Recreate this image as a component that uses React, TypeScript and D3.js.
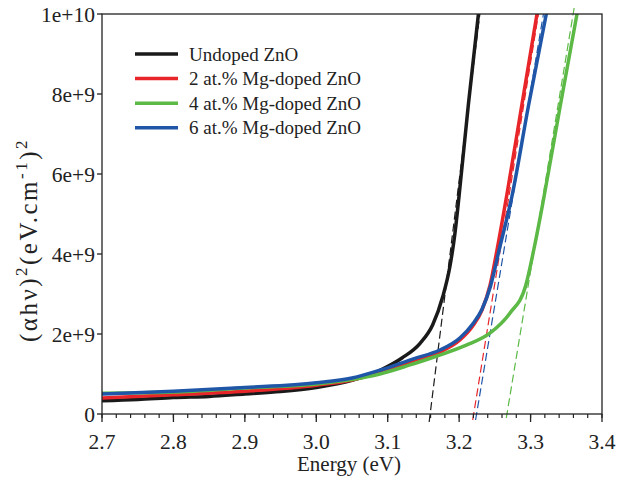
import React from "react";
import * as d3 from "d3";

// ---------- data (values in units of 1e9) ----------
const undopedE = [2.7, 2.75, 2.8, 2.85, 2.9, 2.95, 3.0, 3.05, 3.09, 3.12, 3.145, 3.163, 3.177, 3.187, 3.194, 3.199, 3.213, 3.227];
const undopedV = [0.33, 0.36, 0.41, 0.44, 0.5, 0.56, 0.66, 0.84, 1.1, 1.4, 1.76, 2.23, 2.93, 3.68, 4.5, 5.3, 7.75, 10.0];

const mg2E = [2.7, 2.8, 2.9, 3.0, 3.05, 3.09, 3.136, 3.173, 3.201, 3.219, 3.232, 3.243, 3.253, 3.267, 3.288, 3.309];
const mg2V = [0.4, 0.48, 0.57, 0.72, 0.85, 1.05, 1.33, 1.55, 1.85, 2.2, 2.6, 3.2, 4.1, 5.5, 7.75, 10.0];

const mg4E = [2.7, 2.8, 2.9, 3.0, 3.05, 3.089, 3.13, 3.169, 3.21, 3.243, 3.271, 3.293, 3.305, 3.318, 3.341, 3.365];
const mg4V = [0.52, 0.55, 0.65, 0.75, 0.86, 1.0, 1.22, 1.45, 1.72, 2.02, 2.52, 3.2, 4.15, 5.35, 7.65, 10.0];

const mg6E = [2.7, 2.8, 2.9, 3.0, 3.05, 3.09, 3.136, 3.173, 3.201, 3.219, 3.232, 3.244, 3.256, 3.274, 3.297, 3.322];
const mg6V = [0.5, 0.57, 0.66, 0.78, 0.9, 1.1, 1.38, 1.6, 1.9, 2.25, 2.62, 3.2, 4.1, 5.45, 7.7, 10.0];

// tangent (band gap extrapolation) lines, in series order
const tangentBottomE = [3.158, 3.219, 3.266, 3.223];
const tangentTopE = [3.229, 3.311, 3.361, 3.318];
const tangentBottomV = [-0.2, -0.15, -0.1, -0.15];
const tangentTopV = [10.0, 10.0, 10.15, 10.0];

const seriesNames = ["Undoped ZnO", "2 at.% Mg-doped ZnO", "4 at.% Mg-doped ZnO", "6 at.% Mg-doped ZnO"];
const seriesColors = ["#1a1a1a", "#e8262a", "#5cb946", "#1f56a8"];

const xTickValues = [2.7, 2.8, 2.9, 3.0, 3.1, 3.2, 3.3, 3.4];
const xTickLabels = ["2.7", "2.8", "2.9", "3.0", "3.1", "3.2", "3.3", "3.4"];
const yTickValues = [0, 2, 4, 6, 8, 10];
const yTickLabels = ["0", "2e+9", "4e+9", "6e+9", "8e+9", "1e+10"];

// ---------- layout ----------
const W = 626;
const H = 484;
const left = 102;
const right = 602;
const top = 14;
const bottom = 414;
const FONT = "Liberation Serif, Times New Roman, DejaVu Serif, serif";

export default function App() {
  const x = d3.scaleLinear().domain([2.7, 3.4]).range([left, right]);
  const y = d3.scaleLinear().domain([0, 10]).range([bottom, top]);

  const line = d3
    .line<[number, number]>()
    .x((d) => x(d[0]))
    .y((d) => y(d[1]))
    .curve(d3.curveMonotoneX);

  const series = [
    { e: undopedE, v: undopedV },
    { e: mg2E, v: mg2V },
    { e: mg4E, v: mg4V },
    { e: mg6E, v: mg6V },
  ];

  const minorTicks = d3.range(0, 36).map((i) => 2.7 + i * 0.02);
  const txt = { fontFamily: FONT };

  return (
    <svg width={W} height={H} style={{ display: "block", position: "absolute", left: 0, top: 0, fontFamily: FONT }}>
      <rect x={0} y={0} width={W} height={H} fill="#ffffff" />
      <defs>
        <clipPath id="plotClip">
          <rect x={left} y={top} width={right - left} height={bottom - top} />
        </clipPath>
      </defs>

      {/* tangent dashed lines */}
      {tangentBottomE.map((e0, i) => (
        <line
          key={"t" + i}
          x1={x(e0)}
          y1={y(tangentBottomV[i])}
          x2={x(tangentTopE[i])}
          y2={y(tangentTopV[i])}
          stroke={seriesColors[i]}
          strokeWidth={1.2}
          strokeDasharray="8,4"
        />
      ))}

      {/* curves */}
      <g clipPath="url(#plotClip)">
        {[0, 1, 2, 3].map((i) => (
          <path
            key={"s" + i}
            d={line(series[i].e.map((e, j) => [e, series[i].v[j]] as [number, number])) || ""}
            fill="none"
            stroke={seriesColors[i]}
            strokeWidth={3.5}
            strokeLinejoin="round"
            strokeLinecap="round"
          />
        ))}
      </g>

      {/* frame */}
      <rect x={left} y={top} width={right - left} height={bottom - top} fill="none" stroke="#222" strokeWidth={1.3} />

      {/* x ticks */}
      {minorTicks.map((t, i) => (
        <line key={"mx" + i} x1={x(t)} x2={x(t)} y1={bottom} y2={bottom + 4} stroke="#222" strokeWidth={1.2} />
      ))}
      {xTickValues.map((t, i) => (
        <g key={"x" + i}>
          <line x1={x(t)} x2={x(t)} y1={bottom} y2={bottom + 8} stroke="#222" strokeWidth={1.3} />
          <text x={x(t)} y={449} textAnchor="middle" fontSize={21.5} fill="#222" style={txt}>
            {xTickLabels[i]}
          </text>
        </g>
      ))}

      {/* y ticks */}
      {yTickValues.map((t, i) => (
        <g key={"y" + i}>
          <line x1={left - 5} x2={left} y1={y(t)} y2={y(t)} stroke="#222" strokeWidth={1.3} />
          <text x={95} y={y(t)} dy="0.35em" textAnchor="end" fontSize={21.5} fill="#222" style={txt}>
            {yTickLabels[i]}
          </text>
        </g>
      ))}

      {/* axis titles */}
      <text x={(left + right) / 2 - 3} y={471} textAnchor="middle" fontSize={21} fill="#222" style={txt}>
        Energy (eV)
      </text>
      <text
        transform="translate(37,240) rotate(-90)"
        textAnchor="middle"
        fontSize={25}
        fill="#222"
        letterSpacing={2.5}
        style={txt}
      >
        <tspan>(αhν)</tspan>
        <tspan dy={-10} fontSize={17}>2</tspan>
        <tspan dy={10}>(eV.cm</tspan>
        <tspan dy={-10} fontSize={17}>-1</tspan>
        <tspan dy={10}>)</tspan>
        <tspan dy={-10} fontSize={17}>2</tspan>
      </text>

      {/* legend */}
      {seriesNames.map((name, i) => {
        const cy = 54 + i * 24.6;
        return (
          <g key={"l" + i}>
            <line x1={135} x2={178} y1={cy} y2={cy} stroke={seriesColors[i]} strokeWidth={3.5} />
            <text x={189} y={cy + 6.5} fontSize={19} fill="#222" style={txt}>
              {name}
            </text>
          </g>
        );
      })}
    </svg>
  );
}
